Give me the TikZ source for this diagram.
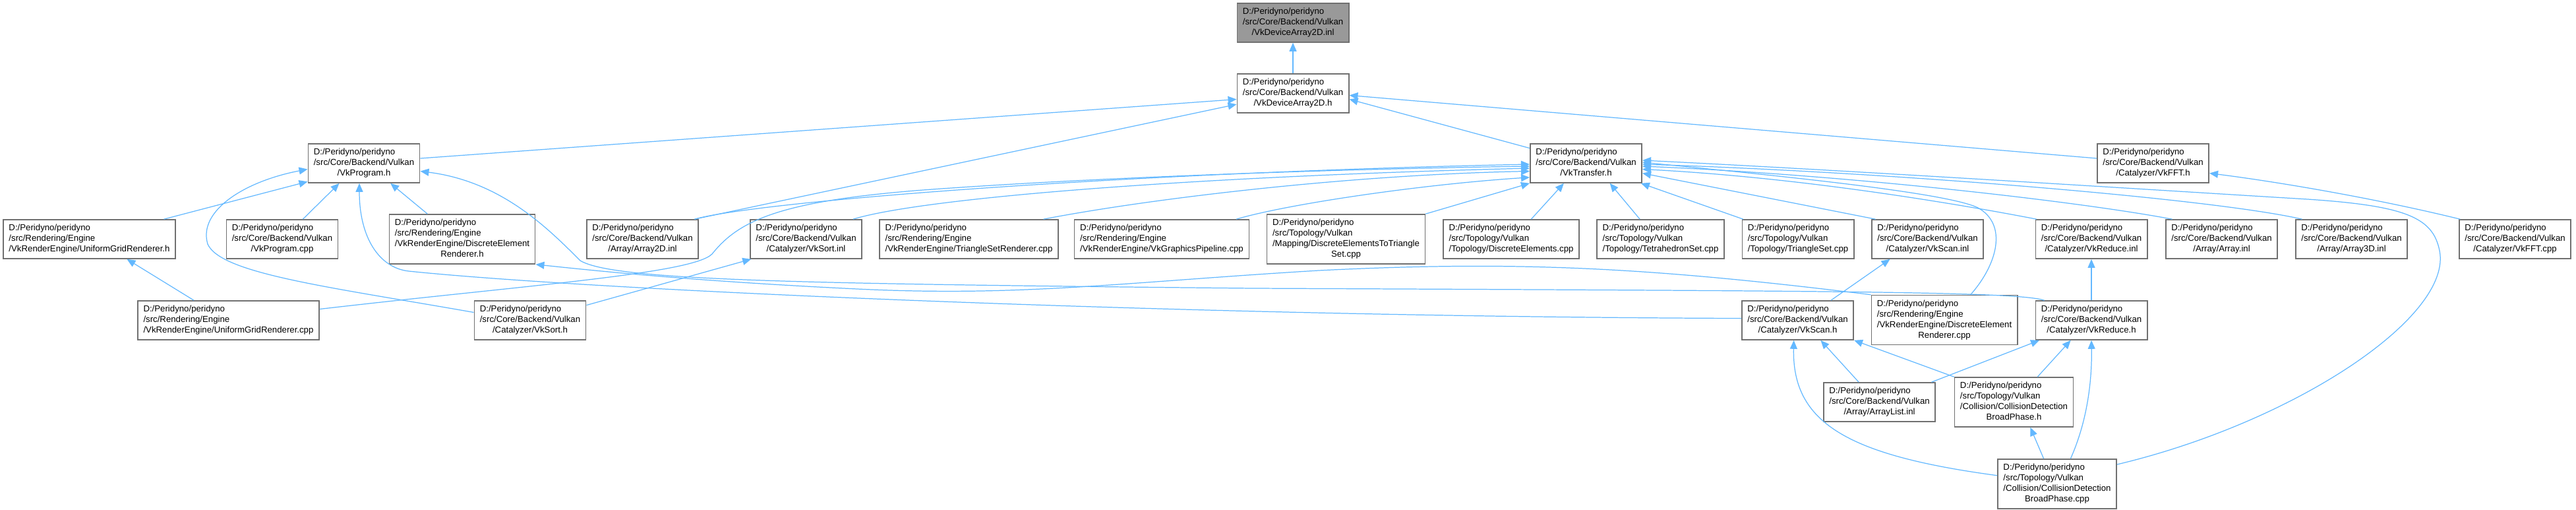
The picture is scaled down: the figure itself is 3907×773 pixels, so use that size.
\documentclass[tikz,border=0pt]{standalone}
\usepackage{fontspec}
\setmainfont{Liberation Sans}
\usepackage{xcolor}
\usepackage{tikz}
\usetikzlibrary{arrows.meta}

\definecolor{edgeblue}{HTML}{63B8FF}
\definecolor{boxline}{HTML}{707070}
\definecolor{boxfill}{HTML}{999999}

% file label: left aligned lines, last line centred
\newcommand{\fpath}[2]{\begin{tabular}{@{}l@{}}#1\\\multicolumn{1}{@{}c@{}}{#2}\end{tabular}}

\begin{document}
\begin{tikzpicture}[x=0.01cm, y=-0.01cm,
    filebox/.style={draw=boxline, fill=white, line width=0.45pt, inner xsep=0.085cm, inner ysep=0.055cm,
      font=\fontsize{3.76pt}{4.55pt}\selectfont},
    focusbox/.style={filebox, fill=boxfill},
    dep/.style={draw=edgeblue, line width=0.35pt, -{Triangle[length=0.13cm,width=0.11cm]}}]
  \useasboundingbox (0,0) rectangle (3907,773);

  % Top file and its header
  \node[focusbox] (devinl) at (1961,34.5) {\fpath{D:/Peridyno/peridyno\\/src/Core/Backend/Vulkan}{/VkDeviceArray2D.inl}};
  \node[filebox] (devh) at (1961,141.5) {\fpath{D:/Peridyno/peridyno\\/src/Core/Backend/Vulkan}{/VkDeviceArray2D.h}};

  % Second row
  \node[filebox] (prog) at (552,247.5) {\fpath{D:/Peridyno/peridyno\\/src/Core/Backend/Vulkan}{/VkProgram.h}};
  \node[filebox] (xfer) at (2405.5,247.5) {\fpath{D:/Peridyno/peridyno\\/src/Core/Backend/Vulkan}{/VkTransfer.h}};
  \node[filebox] (ffth) at (3265.5,247.5) {\fpath{D:/Peridyno/peridyno\\/src/Core/Backend/Vulkan}{/Catalyzer/VkFFT.h}};

  % Third row
  \node[filebox] (ugrh) at (135.5,362.5) {\fpath{D:/Peridyno/peridyno\\/src/Rendering/Engine}{/VkRenderEngine/UniformGridRenderer.h}};
  \node[filebox] (progcpp) at (428,362.5) {\fpath{D:/Peridyno/peridyno\\/src/Core/Backend/Vulkan}{/VkProgram.cpp}};
  \node[filebox] (derh) at (701,362.5) {\fpath{D:/Peridyno/peridyno\\/src/Rendering/Engine\\/VkRenderEngine/DiscreteElement}{Renderer.h}};
  \node[filebox] (arr2d) at (974.5,362.5) {\fpath{D:/Peridyno/peridyno\\/src/Core/Backend/Vulkan}{/Array/Array2D.inl}};
  \node[filebox] (sortinl) at (1222.5,362.5) {\fpath{D:/Peridyno/peridyno\\/src/Core/Backend/Vulkan}{/Catalyzer/VkSort.inl}};
  \node[filebox] (tsr) at (1469.5,362.5) {\fpath{D:/Peridyno/peridyno\\/src/Rendering/Engine}{/VkRenderEngine/TriangleSetRenderer.cpp}};
  \node[filebox] (gpipe) at (1762,362.5) {\fpath{D:/Peridyno/peridyno\\/src/Rendering/Engine}{/VkRenderEngine/VkGraphicsPipeline.cpp}};
  \node[filebox] (de2ts) at (2041.5,362.5) {\fpath{D:/Peridyno/peridyno\\/src/Topology/Vulkan\\/Mapping/DiscreteElementsToTriangle}{Set.cpp}};
  \node[filebox] (decpp) at (2292,362.5) {\fpath{D:/Peridyno/peridyno\\/src/Topology/Vulkan}{/Topology/DiscreteElements.cpp}};
  \node[filebox] (tetcpp) at (2518.5,362.5) {\fpath{D:/Peridyno/peridyno\\/src/Topology/Vulkan}{/Topology/TetrahedronSet.cpp}};
  \node[filebox] (tricpp) at (2727,362.5) {\fpath{D:/Peridyno/peridyno\\/src/Topology/Vulkan}{/Topology/TriangleSet.cpp}};
  \node[filebox] (scaninl) at (2923.5,362.5) {\fpath{D:/Peridyno/peridyno\\/src/Core/Backend/Vulkan}{/Catalyzer/VkScan.inl}};
  \node[filebox] (redinl) at (3172,362.5) {\fpath{D:/Peridyno/peridyno\\/src/Core/Backend/Vulkan}{/Catalyzer/VkReduce.inl}};
  \node[filebox] (arrinl) at (3369.5,362.5) {\fpath{D:/Peridyno/peridyno\\/src/Core/Backend/Vulkan}{/Array/Array.inl}};
  \node[filebox] (arr3d) at (3566.5,362.5) {\fpath{D:/Peridyno/peridyno\\/src/Core/Backend/Vulkan}{/Array/Array3D.inl}};
  \node[filebox] (fftcpp) at (3814.5,362.5) {\fpath{D:/Peridyno/peridyno\\/src/Core/Backend/Vulkan}{/Catalyzer/VkFFT.cpp}};

  % Fourth row
  \node[filebox] (ugrcpp) at (346.5,485.5) {\fpath{D:/Peridyno/peridyno\\/src/Rendering/Engine}{/VkRenderEngine/UniformGridRenderer.cpp}};
  \node[filebox] (sorth) at (804,485.5) {\fpath{D:/Peridyno/peridyno\\/src/Core/Backend/Vulkan}{/Catalyzer/VkSort.h}};
  \node[filebox] (scanh) at (2726.5,485.5) {\fpath{D:/Peridyno/peridyno\\/src/Core/Backend/Vulkan}{/Catalyzer/VkScan.h}};
  \node[filebox] (dercpp) at (2949,485) {\fpath{D:/Peridyno/peridyno\\/src/Rendering/Engine\\/VkRenderEngine/DiscreteElement}{Renderer.cpp}};
  \node[filebox] (redh) at (3172,485.5) {\fpath{D:/Peridyno/peridyno\\/src/Core/Backend/Vulkan}{/Catalyzer/VkReduce.h}};

  % Bottom rows
  \node[filebox] (alist) at (2850.5,609.5) {\fpath{D:/Peridyno/peridyno\\/src/Core/Backend/Vulkan}{/Array/ArrayList.inl}};
  \node[filebox] (bph) at (3054.5,609.5) {\fpath{D:/Peridyno/peridyno\\/src/Topology/Vulkan\\/Collision/CollisionDetection}{BroadPhase.h}};
  \node[filebox] (bpcpp) at (3120,733.5) {\fpath{D:/Peridyno/peridyno\\/src/Topology/Vulkan\\/Collision/CollisionDetection}{BroadPhase.cpp}};

  % Into VkDeviceArray2D
  \draw[dep] (devh) -- (devinl);
  \draw[dep] (prog.5) -- (devh.186);
  \draw[dep] (arr2d.21) -- (devh.191);
  \draw[dep] (xfer.165) -- (devh.-6);
  \draw[dep] (ffth.175) -- (devh.-2);

  % Into VkProgram.h
  \draw[dep] (ugrh.15) -- (prog.198);
  \draw[dep] (progcpp.44) -- (prog.219);
  \draw[dep] (derh.144) -- (prog.-37);
  \draw[dep] (sorth.172) .. controls (500,435) and (335,415) .. (315,370) .. controls (300,320) and (370,275) .. (prog.186);
  \draw[dep] (scanh.178) .. controls (1800,480) and (900,440) .. (620,411) .. controls (575,406) and (545,360) .. (prog.257);
  \draw[dep] (redh.157) .. controls (3060,442) and (2800,441) .. (1900,437) .. controls (1200,430) and (930,425) .. (880,395) .. controls (830,345) and (760,275) .. (prog.-8);

  % Into VkTransfer.h, left side
  \draw[dep] (ugrcpp.7) .. controls (800,432) and (1050,415) .. (1080,385) .. controls (1120,335) and (1180,305) .. (1400,288) .. controls (1700,266) and (2100,255) .. (xfer.183);
  \draw[dep] (arr2d.21) .. controls (1150,305) and (1700,262) .. (xfer.181);
  \draw[dep] (sortinl.23) .. controls (1400,300) and (1800,268) .. (xfer.185);
  \draw[dep] (tsr.15) .. controls (1750,300) and (2050,265) .. (xfer.188);
  \draw[dep] (gpipe.15) .. controls (1950,310) and (2150,280) .. (xfer.194);
  \draw[dep] (de2ts.north east) -- (xfer.south west);

  % Into VkTransfer.h, below and right
  \draw[dep] (decpp.45) -- (xfer.222);
  \draw[dep] (tetcpp.136) -- (xfer.-40);
  \draw[dep] (tricpp.160) -- (xfer.-20);
  \draw[dep] (scaninl.159) -- (xfer.-10);
  \draw[dep] (redinl.160) .. controls (3000,315) and (2750,270) .. (xfer.-6);
  \draw[dep] (arrinl.158) .. controls (3150,305) and (2800,265) .. (xfer.-3);
  \draw[dep] (arr3d.158) .. controls (3350,300) and (2850,260) .. (xfer.-1);
  \draw[dep] (dercpp.44) .. controls (3030,400) and (3045,340) .. (3000,315) .. controls (2950,290) and (2650,262) .. (xfer.1);
  \draw[dep] (bpcpp.18) .. controls (3480,640) and (3720,480) .. (3700,380) .. controls (3690,330) and (3650,312) .. (3500,302) .. controls (3300,290) and (2800,258) .. (xfer.3);

  % Lower part
  \draw[dep] (ugrcpp.150) -- (ugrh.-28);
  \draw[dep] (sorth.15) -- (sortinl.200);
  \draw[dep] (dercpp.north west) .. controls (2500,405) and (2300,395) .. (2000,410) .. controls (1700,428) and (1550,450) .. (1300,438) .. controls (1050,426) and (900,410) .. (derh.south east);
  \draw[dep] (scanh.31) -- (scaninl.208);
  \draw[dep] (redh) -- (redinl);
  \draw[dep] (alist.136) -- (scanh.-41);
  \draw[dep] (alist.21) -- (redh.201);
  \draw[dep] (bph.north west) -- (scanh.south east);
  \draw[dep] (bph.47) -- (redh.224);
  \draw[dep] (bpcpp.118) -- (bph.-57);
  \draw[dep] (bpcpp.62) .. controls (3165,640) and (3173,580) .. (redh.south);
  \draw[dep] (bpcpp.172) .. controls (2800,690) and (2718,640) .. (scanh.259);
  \draw[dep] (fftcpp.160) .. controls (3600,300) and (3450,275) .. (ffth.-10);
\end{tikzpicture}
\end{document}
